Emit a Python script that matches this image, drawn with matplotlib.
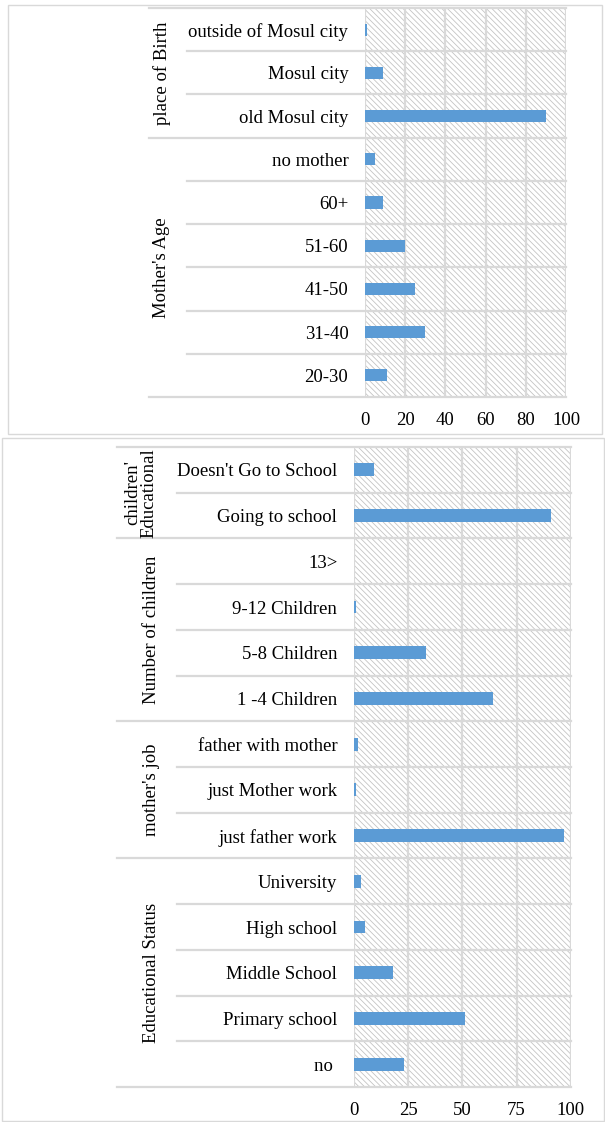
import matplotlib.pyplot as plt
import matplotlib.transforms as mtransforms
from matplotlib.patches import Rectangle

plt.rcParams['font.family'] = ['Liberation Serif', 'DejaVu Serif']
plt.rcParams['hatch.linewidth'] = 0.6

# top chart (groups listed bottom to top)
age_labels = ['20-30', '31-40', '41-50', '51-60', '60+', 'no mother']
age_values = [11, 30, 25, 20, 9, 5]
birth_labels = ['old Mosul city', 'Mosul city', 'outside of Mosul city']
birth_values = [90, 9, 1]
top_groups = ["Mother's Age", 'place of Birth']

# bottom chart
edu_labels = ['no ', 'Primary school', 'Middle School', 'High school', 'University']
edu_values = [23, 51, 18, 5, 3]
job_labels = ['just father work', 'just Mother work', 'father with mother']
job_values = [97, 1, 2]
child_labels = ['1 -4 Children', '5-8 Children', '9-12 Children', '13>']
child_values = [64, 33, 1, 0]
school_labels = ['Going to school', "Doesn't Go to School"]
school_values = [91, 9]
bottom_groups = ['Educational Status', "mother's job", 'Number of children',
                 "children'\nEducational"]

W, H = 605, 1122
BAR = '#5B9BD5'
GRID = '#d9d9d9'
FS = 13.5

fig = plt.figure(figsize=(W / 100, H / 100), dpi=100)


def px_box(x0, y0, x1, y1):
    return [x0 / W, 1 - y1 / H, (x1 - x0) / W, (y1 - y0) / H]


def panel(rect, labels_list, values_list, groups, ticks, line_x, group_x):
    ax = fig.add_axes(rect)
    labels = sum(labels_list, [])
    values = sum(values_list, [])
    n = len(labels)
    ax.set_facecolor('none')
    ax.add_patch(Rectangle((0, 0), 1, 1, transform=ax.transAxes, facecolor='white',
                           edgecolor='#c4c4c4', hatch='\\' * 6, linewidth=0, zorder=0))
    for t in ticks:
        ax.axvline(t, color=GRID, lw=1.6, zorder=1)
    ax.barh(range(n), values, height=0.28, color=BAR, zorder=3)
    ax.set_xlim(0, 100)
    ax.set_ylim(-0.5, n - 0.5)
    ax.set_xticks(ticks)
    ax.set_yticks(range(n))
    ax.set_yticklabels(labels)
    ax.tick_params(length=0, labelsize=FS)
    ax.tick_params(axis='y', pad=12)
    ax.tick_params(axis='x', pad=11)
    for s in ax.spines.values():
        s.set_visible(False)

    trans = mtransforms.blended_transform_factory(fig.transFigure, ax.transData)
    right = rect[0] + rect[2]
    # row separators; group boundaries reach further left
    bounds = [-0.5]
    for lab in labels_list:
        bounds.append(bounds[-1] + len(lab))
    for k in range(n + 1):
        y = k - 0.5
        x0 = line_x[0] if y in bounds else line_x[1]
        ax.plot([x0 / W, right], [y, y], color=GRID, lw=1.6, transform=trans,
                clip_on=False, zorder=1)
    for g, (a, b) in zip(groups, zip(bounds[:-1], bounds[1:])):
        ax.text(group_x[g] / W if isinstance(group_x, dict) else group_x / W,
                (a + b) / 2, g, rotation=90, ha='center', va='center',
                fontsize=FS, transform=trans, linespacing=0.95)
    return ax


panel(px_box(365, 8, 566, 397), [age_labels, birth_labels], [age_values, birth_values],
      top_groups, [0, 20, 40, 60, 80, 100], (149, 187), 162)

panel(px_box(354, 447, 570.7, 1087),
      [edu_labels, job_labels, child_labels, school_labels],
      [edu_values, job_values, child_values, school_values],
      bottom_groups, [0, 25, 50, 75, 100], (116.5, 177),
      {'Educational Status': 151, "mother's job": 152, 'Number of children': 151,
       "children'\nEducational": 141})

# chart frames
fig.add_artist(Rectangle((8 / W, 1 - 434 / H), 594 / W, 429 / H, transform=fig.transFigure,
                         facecolor='none', edgecolor=GRID, lw=1))
fig.add_artist(Rectangle((2 / W, 1 - 1121 / H), 602 / W, 683 / H, transform=fig.transFigure,
                         facecolor='none', edgecolor=GRID, lw=1))

fig.savefig('out.png', dpi=100)
